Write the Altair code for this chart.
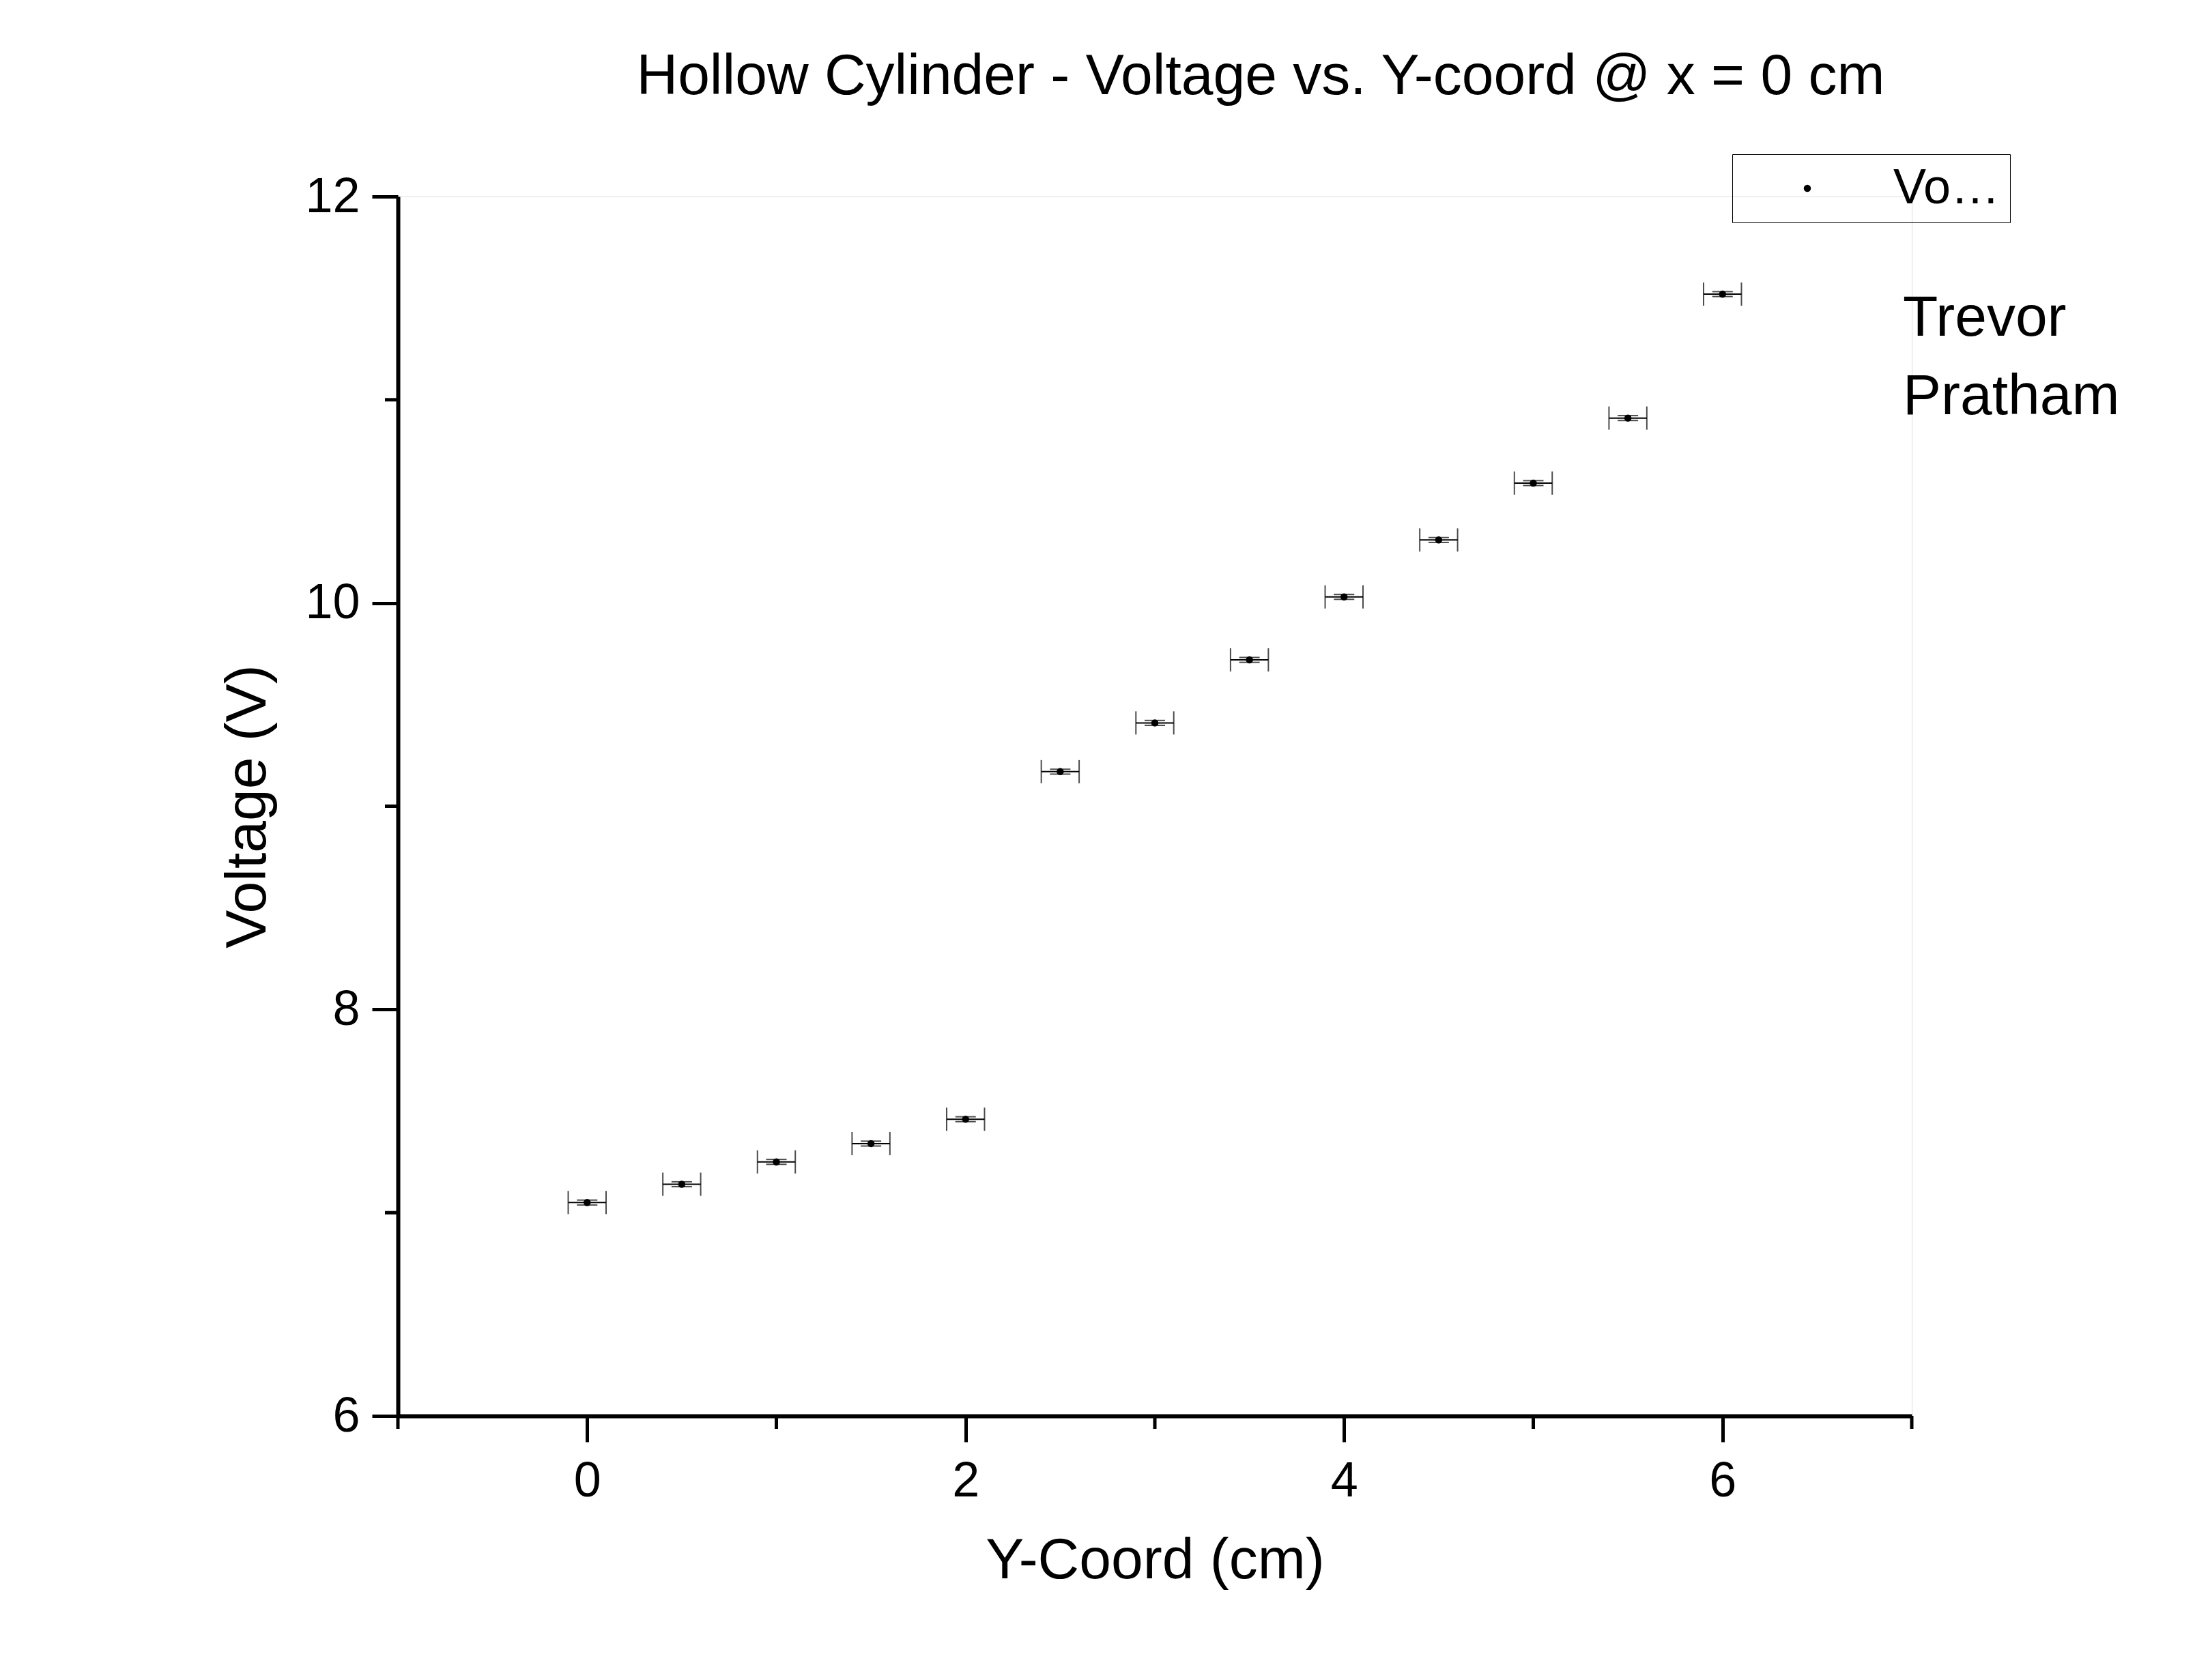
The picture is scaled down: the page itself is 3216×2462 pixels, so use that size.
import pandas as pd
import altair as alt

y_coord = [0, 0.5, 1, 1.5, 2, 2.5, 3, 3.5, 4, 4.5, 5, 5.5, 6]
voltage = [7.05, 7.14, 7.25, 7.34, 7.46, 9.17, 9.41, 9.72, 10.03, 10.31, 10.59, 10.91, 11.52]
x_err = 0.1
y_err = 0.012
minor_x = [-1, 1, 3, 5, 7]
minor_y = [7, 9, 11]

df = pd.DataFrame({"x": y_coord, "v": voltage, "s": "Voltage"})
df["x_lo"] = df["x"] - x_err
df["x_hi"] = df["x"] + x_err
df["v_lo"] = df["v"] - y_err
df["v_hi"] = df["v"] + y_err

W, H = 2218, 1787
FONT = "Liberation Sans"

xs = alt.Scale(domain=[-1, 7], nice=False)
ys = alt.Scale(domain=[6, 12], nice=False)

x_axis = alt.Axis(values=[0, 2, 4, 6], format="d", title="Y-Coord (cm)")
y_axis = alt.Axis(values=[6, 8, 10, 12], format="d", title="Voltage (V)")


def X(field):
    return alt.X(field, type="quantitative", scale=xs, axis=x_axis)


def Y(field):
    return alt.Y(field, type="quantitative", scale=ys, axis=y_axis)


base = alt.Chart(df)

hbar = base.mark_rule(color="black", strokeWidth=2).encode(x=X("x_lo"), x2="x_hi", y=Y("v"))
caps_lo = base.mark_tick(color="black", thickness=2, size=34, orient="vertical").encode(x=X("x_lo"), y=Y("v"))
caps_hi = base.mark_tick(color="black", thickness=2, size=34, orient="vertical").encode(x=X("x_hi"), y=Y("v"))
ycap_lo = base.mark_tick(color="black", thickness=2, size=30, orient="horizontal").encode(x=X("x"), y=Y("v_lo"))
ycap_hi = base.mark_tick(color="black", thickness=2, size=30, orient="horizontal").encode(x=X("x"), y=Y("v_hi"))

pts = base.mark_circle(size=110, opacity=1).encode(
    x=X("x"), y=Y("v"),
    color=alt.Color("s:N", scale=alt.Scale(range=["black"]), title=None,
                    legend=alt.Legend(orient="none", legendX=1955, legendY=-62, labelFontSize=72,
                                      labelFont=FONT, labelColor="black", symbolSize=110,
                                      strokeColor="black", padding=14, symbolOffset=60,
                                      labelOffset=90, symbolType="circle")),
)

mx = alt.Chart(pd.DataFrame({"m": minor_x})).mark_rule(color="black", strokeWidth=5).encode(
    x=X("m"), y=alt.value(H), y2=alt.value(H + 19))
my = alt.Chart(pd.DataFrame({"m": minor_y})).mark_rule(color="black", strokeWidth=5).encode(
    y=Y("m"), x=alt.value(0), x2=alt.value(-19))

title = alt.Chart(pd.DataFrame({"t": ["Hollow Cylinder - Voltage vs. Y-coord @ x = 0 cm"]})).mark_text(
    font=FONT, fontSize=84, color="black", baseline="alphabetic", align="center").encode(
    text="t:N", x=alt.value(1264), y=alt.value(-150))
author = alt.Chart(pd.DataFrame({"t": [["Trevor", "Pratham"]]})).mark_text(
    font=FONT, fontSize=84, color="black", baseline="top", align="left", lineHeight=115).encode(
    text="t:N", x=alt.value(2205), y=alt.value(138))

chart = alt.layer(hbar, caps_lo, caps_hi, ycap_lo, ycap_hi, pts, mx, my, title, author).properties(
    width=W, height=H,
    autosize=alt.AutoSizeParams(type="none"),
    padding={"left": 575, "top": 280, "right": 400, "bottom": 370},
).configure_view(stroke=None).configure(background="white").configure_axis(
    tickSize=38, tickWidth=5, domainWidth=6, domainColor="black", tickColor="black",
    labelFontSize=72, labelFont=FONT, labelColor="black",
    titleFont=FONT, titleFontSize=84, titleFontWeight="normal", titleColor="black",
    grid=False,
).configure_axisX(labelPadding=22, titlePadding=40).configure_axisY(labelPadding=18, titlePadding=40)

chart.save("out.html", embed_options={"renderer": "svg", "actions": False})
